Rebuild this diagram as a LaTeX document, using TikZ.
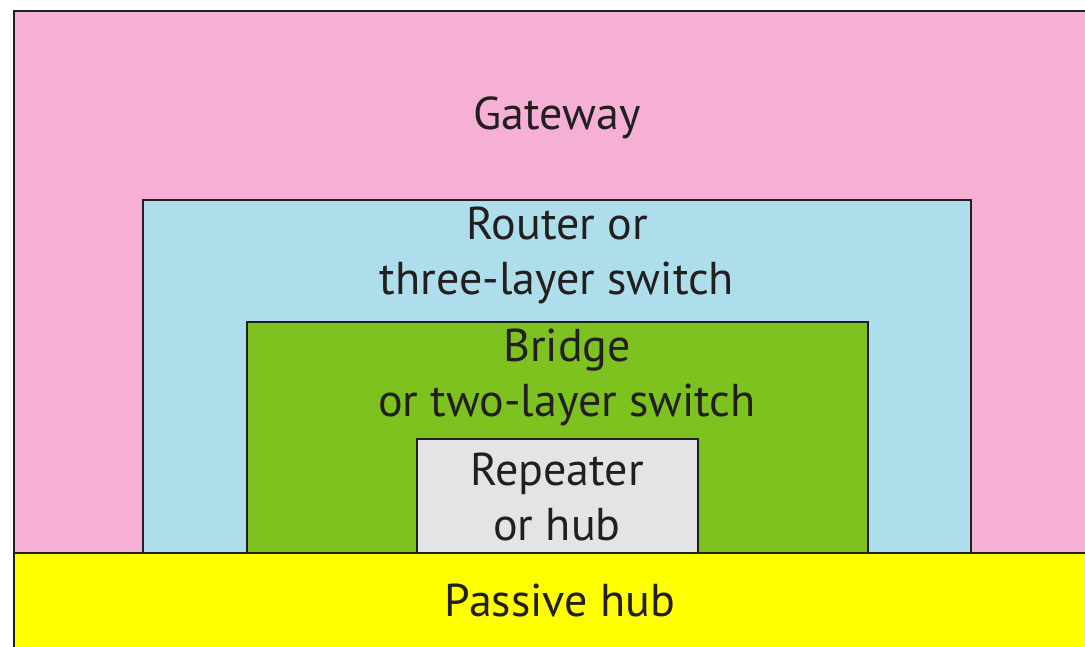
\documentclass[tikz,border=0pt]{standalone}
\usepackage{fontspec}
\setmainfont{PT Sans}
\definecolor{gwpink}{HTML}{F6B0D6}
\definecolor{rtblue}{HTML}{AEDDEB}
\definecolor{brgreen}{HTML}{7DC21E}
\definecolor{rpgray}{HTML}{E4E4E6}
\definecolor{phyellow}{HTML}{FFFF00}
\definecolor{ink}{HTML}{231F20}
\begin{document}
\begin{tikzpicture}[x=1pt,y=1pt,
  layerbox/.style={draw=ink,line width=2.6pt},
  lbl/.style={text=ink,font=\fontsize{46}{55}\selectfont,align=center,inner sep=0pt}]
\useasboundingbox (0,0) rectangle (1085,647);
\fill[white] (0,0) rectangle (1085,647);
\clip (0,0) rectangle (1085,647);
\path[layerbox,fill=gwpink] (14,-10) rectangle (1100,636);
\path[layerbox,fill=rtblue] (143,94) rectangle (971,447);
\path[layerbox,fill=brgreen] (247,94) rectangle (868,325);
\path[layerbox,fill=rpgray] (417,94) rectangle (698,208);
\path[layerbox,fill=phyellow] (14,-10) rectangle (1100,94);
\node[lbl] (gw) at (557,529) {Gateway};
\node[lbl] (rt) at (557,392) {Router or\\three-layer switch};
\node[lbl] (br) at (567,270) {Bridge\\or two-layer switch};
\node[lbl] (rp) at (557,150) {Repeater\\or hub};
\node[lbl] (ph) at (560,47) {Passive hub};
\end{tikzpicture}
\end{document}
